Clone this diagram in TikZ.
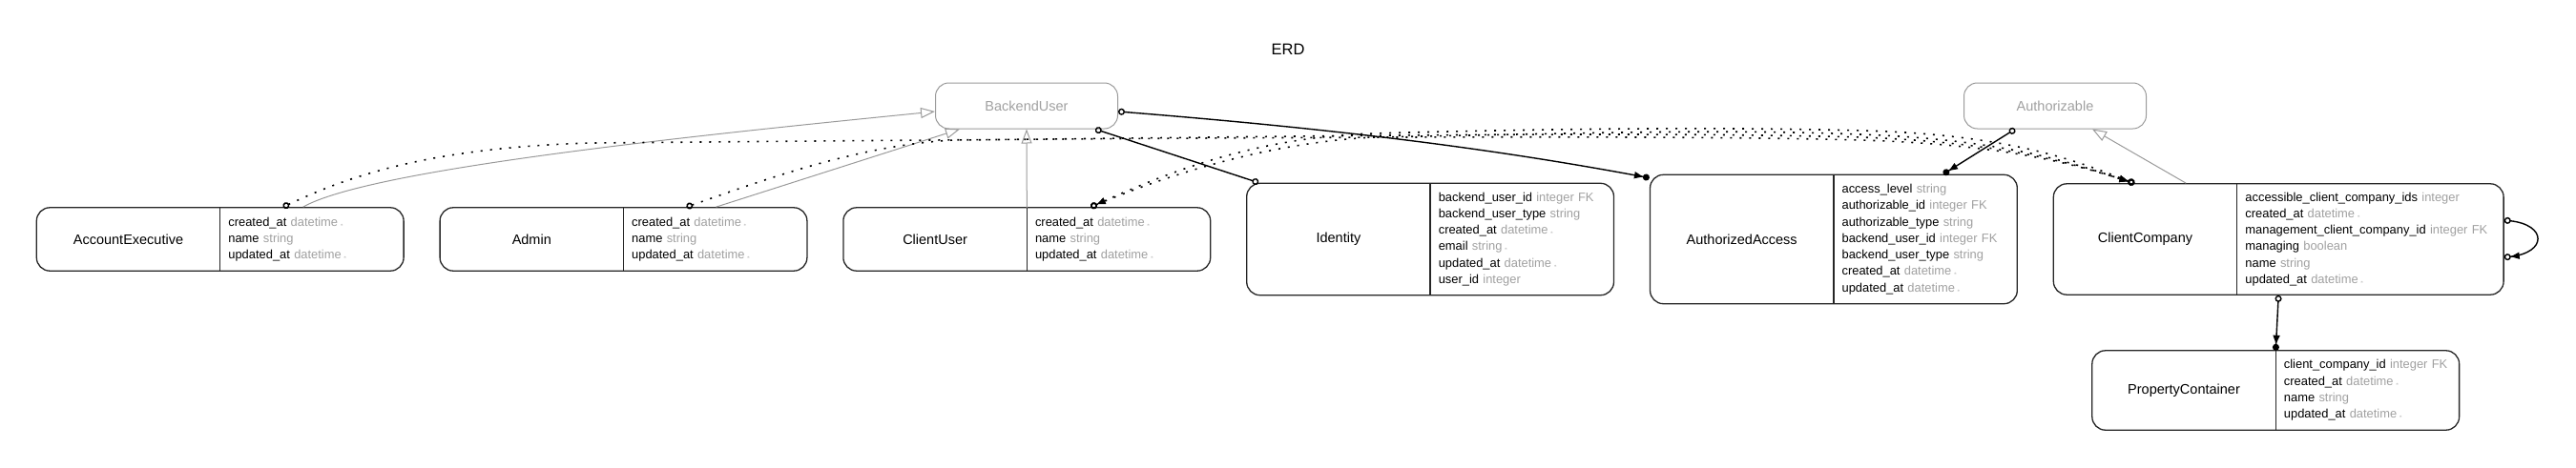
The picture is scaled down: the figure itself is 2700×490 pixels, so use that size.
\documentclass[tikz,border=0pt]{standalone}
\usepackage{fontspec}
\setmainfont{Liberation Sans}
\setsansfont{Liberation Sans}
\usepackage{tikz}
\usetikzlibrary{positioning, calc, arrows.meta, fit}
\definecolor{figgrayline}{HTML}{9A9A9A}
\definecolor{figgraytext}{HTML}{A0A0A0}
\definecolor{figborder}{HTML}{262626}
\newcommand{\figtype}[1]{{\color{figgraytext}#1}}
\newcommand{\fignn}{{\color{figgraytext}\,{\tiny$\ast$}}}

\begin{document}
\begin{tikzpicture}[
  x=1pt, y=-1pt,
  font=\sffamily,
  figabstract/.style={
    rectangle, draw=figgrayline, line width=1pt, rounded corners=14pt,
    minimum width=191pt, minimum height=48pt, text=figgraytext,
    font=\sffamily\fontsize{14.5}{17}\selectfont,
  },
  figname/.style={
    rectangle, minimum width=192pt, inner sep=0pt,
    font=\sffamily\fontsize{14.5}{17}\selectfont,
  },
  figattrs/.style={
    rectangle, inner xsep=8.5pt, inner ysep=0pt, text width=175pt, align=left,
    font=\sffamily\fontsize{12.9}{17.3}\selectfont,
  },
  figentity/.style={
    rectangle, draw=figborder, line width=1.3pt, rounded corners=14pt, inner sep=0pt,
  },
  figdivider/.style={draw=figborder, line width=1.3pt},
  figinherit/.style={
    draw=figgrayline, line width=1pt, -{Triangle[open, length=15pt, width=11pt]},
  },
  figrel/.style={draw=black, line width=1.4pt},
  figthrough/.style={draw=black, line width=1.6pt, dash pattern=on 2pt off 8pt},
  figoneone/.style={{Circle[open, length=7pt]}-{Circle[open, length=7pt]}},
  figmanyreq/.style={{Circle[open, length=7pt]}-{Triangle[length=9pt, width=7pt] Circle[length=7pt]}},
  figmanyopt/.style={{Circle[open, length=7pt]}-{Triangle[length=9pt, width=7pt] Circle[open, length=7pt]}},
]
\useasboundingbox (0,0) rectangle (2700,490);

\node[font=\sffamily\fontsize{16.5}{20}\selectfont] (figtitle) at (1350,52) {ERD};
\node[figabstract] (figbackend) at (1076,111) {BackendUser};
\node[figabstract] (figauthz) at (2154,111) {Authorizable};

\node[figname, minimum height=66pt] (figaeName) at (134.5,251) {AccountExecutive};
\node[figattrs, minimum height=66pt, right=0pt of figaeName] (figaeAttrs) {%
  created\_at \figtype{datetime}\fignn\\
  name \figtype{string}\\
  updated\_at \figtype{datetime}\fignn};
\node[figentity, fit=(figaeName)(figaeAttrs)] (figae) {};
\draw[figdivider] (figaeName.north east) -- (figaeName.south east);

\node[figname, minimum height=66pt, right=38pt of figaeAttrs] (figadminName) {Admin};
\node[figattrs, minimum height=66pt, right=0pt of figadminName] (figadminAttrs) {%
  created\_at \figtype{datetime}\fignn\\
  name \figtype{string}\\
  updated\_at \figtype{datetime}\fignn};
\node[figentity, fit=(figadminName)(figadminAttrs)] (figadmin) {};
\draw[figdivider] (figadminName.north east) -- (figadminName.south east);

\node[figname, minimum height=66pt, right=38pt of figadminAttrs] (figcuName) {ClientUser};
\node[figattrs, minimum height=66pt, right=0pt of figcuName] (figcuAttrs) {%
  created\_at \figtype{datetime}\fignn\\
  name \figtype{string}\\
  updated\_at \figtype{datetime}\fignn};
\node[figentity, fit=(figcuName)(figcuAttrs)] (figcu) {};
\draw[figdivider] (figcuName.north east) -- (figcuName.south east);

\node[figname, minimum height=117pt, right=38pt of figcuAttrs] (figidName) {Identity};
\node[figattrs, minimum height=117pt, right=0pt of figidName] (figidAttrs) {%
  backend\_user\_id \figtype{integer FK}\\
  backend\_user\_type \figtype{string}\\
  created\_at \figtype{datetime}\fignn\\
  email \figtype{string}\fignn\\
  updated\_at \figtype{datetime}\fignn\\
  user\_id \figtype{integer}};
\node[figentity, fit=(figidName)(figidAttrs)] (figid) {};
\draw[figdivider] (figidName.north east) -- (figidName.south east);

\node[figname, minimum height=135pt, right=38pt of figidAttrs] (figaaName) {AuthorizedAccess};
\node[figattrs, minimum height=135pt, right=0pt of figaaName] (figaaAttrs) {%
  access\_level \figtype{string}\\
  authorizable\_id \figtype{integer FK}\\
  authorizable\_type \figtype{string}\\
  backend\_user\_id \figtype{integer FK}\\
  backend\_user\_type \figtype{string}\\
  created\_at \figtype{datetime}\fignn\\
  updated\_at \figtype{datetime}\fignn};
\node[figentity, fit=(figaaName)(figaaAttrs)] (figaa) {};
\draw[figdivider] (figaaName.north east) -- (figaaName.south east);

\node[figname, minimum height=116pt, right=38pt of figaaAttrs] (figccName) {ClientCompany};
\node[figattrs, minimum height=116pt, text width=262pt, right=0pt of figccName] (figccAttrs) {%
  accessible\_client\_company\_ids \figtype{integer}\\
  created\_at \figtype{datetime}\fignn\\
  management\_client\_company\_id \figtype{integer FK}\\
  managing \figtype{boolean}\\
  name \figtype{string}\\
  updated\_at \figtype{datetime}\fignn};
\node[figentity, fit=(figccName)(figccAttrs)] (figcc) {};
\draw[figdivider] (figccName.north east) -- (figccName.south east);

\node[figname, minimum height=83pt] (figpcName) at (2289,409.5) {PropertyContainer};
\node[figattrs, minimum height=83pt, right=0pt of figpcName] (figpcAttrs) {%
  client\_company\_id \figtype{integer FK}\\
  created\_at \figtype{datetime}\fignn\\
  name \figtype{string}\\
  updated\_at \figtype{datetime}\fignn};
\node[figentity, fit=(figpcName)(figpcAttrs)] (figpc) {};
\draw[figdivider] (figpcName.north east) -- (figpcName.south east);

\draw[figinherit] ([xshift=87pt]figae.north) .. controls +(70,-40) and +(-250,25) .. ([yshift=-6pt]figbackend.west);
\draw[figinherit] ([xshift=97pt]figadmin.north) -- ([xshift=-70pt]figbackend.south);
\draw[figinherit] (figcuName.north east) -- (figbackend.south);
\draw[figinherit] ([xshift=-97pt]figcc.north) -- ([xshift=39pt]figauthz.south);

\draw[figrel, figmanyreq] ([yshift=-6pt]figbackend.east) .. controls +(250,20) and +(-150,-28) .. ([yshift=-4pt]figaa.north west);
\draw[figrel, figoneone] ([xshift=72pt]figbackend.south) -- ([xshift=-180pt]figid.north);
\draw[figrel, figmanyreq] ([xshift=-42pt]figauthz.south) -- ([xshift=115pt]figaa.north);
\draw[figrel, figmanyopt] ([yshift=20pt]figcc.east) .. controls +(45,5) and +(45,-5) .. ([yshift=-19pt]figcc.east);
\draw[figrel, figmanyreq] (figcc.south) -- (figpcName.north east);

\draw[figthrough, figmanyopt] ([xshift=66pt]figae.north) .. controls +(60,-28) and (440,155) .. (620,150)
  .. controls (1100,146) and (1700,140) .. (1950,147) .. controls (2120,152) and (2190,178) .. ([xshift=-151pt]figcc.north);
\draw[figthrough, figmanyopt] ([xshift=66pt]figadmin.north) .. controls +(80,-28) and (900,152) .. (1000,147)
  .. controls (1300,144) and (1700,137) .. (1950,144) .. controls (2120,150) and (2190,178) .. ([xshift=-151pt]figcc.north);
\draw[figthrough, figmanyopt] ([xshift=67pt]figcu.north) .. controls +(67,-28) and (1320,150) .. (1440,144)
  .. controls (1650,140) and (1800,135) .. (1950,141) .. controls (2120,147) and (2190,178) .. ([xshift=-151pt]figcc.north);
\draw[figthrough, figmanyopt] ([xshift=-151pt]figcc.north) .. controls (2190,175) and (2120,141) .. (1950,137)
  .. controls (1800,133) and (1620,135) .. (1440,140) .. controls (1310,144) and (1215,185) .. ([xshift=67pt]figcu.north);
\end{tikzpicture}
\end{document}
